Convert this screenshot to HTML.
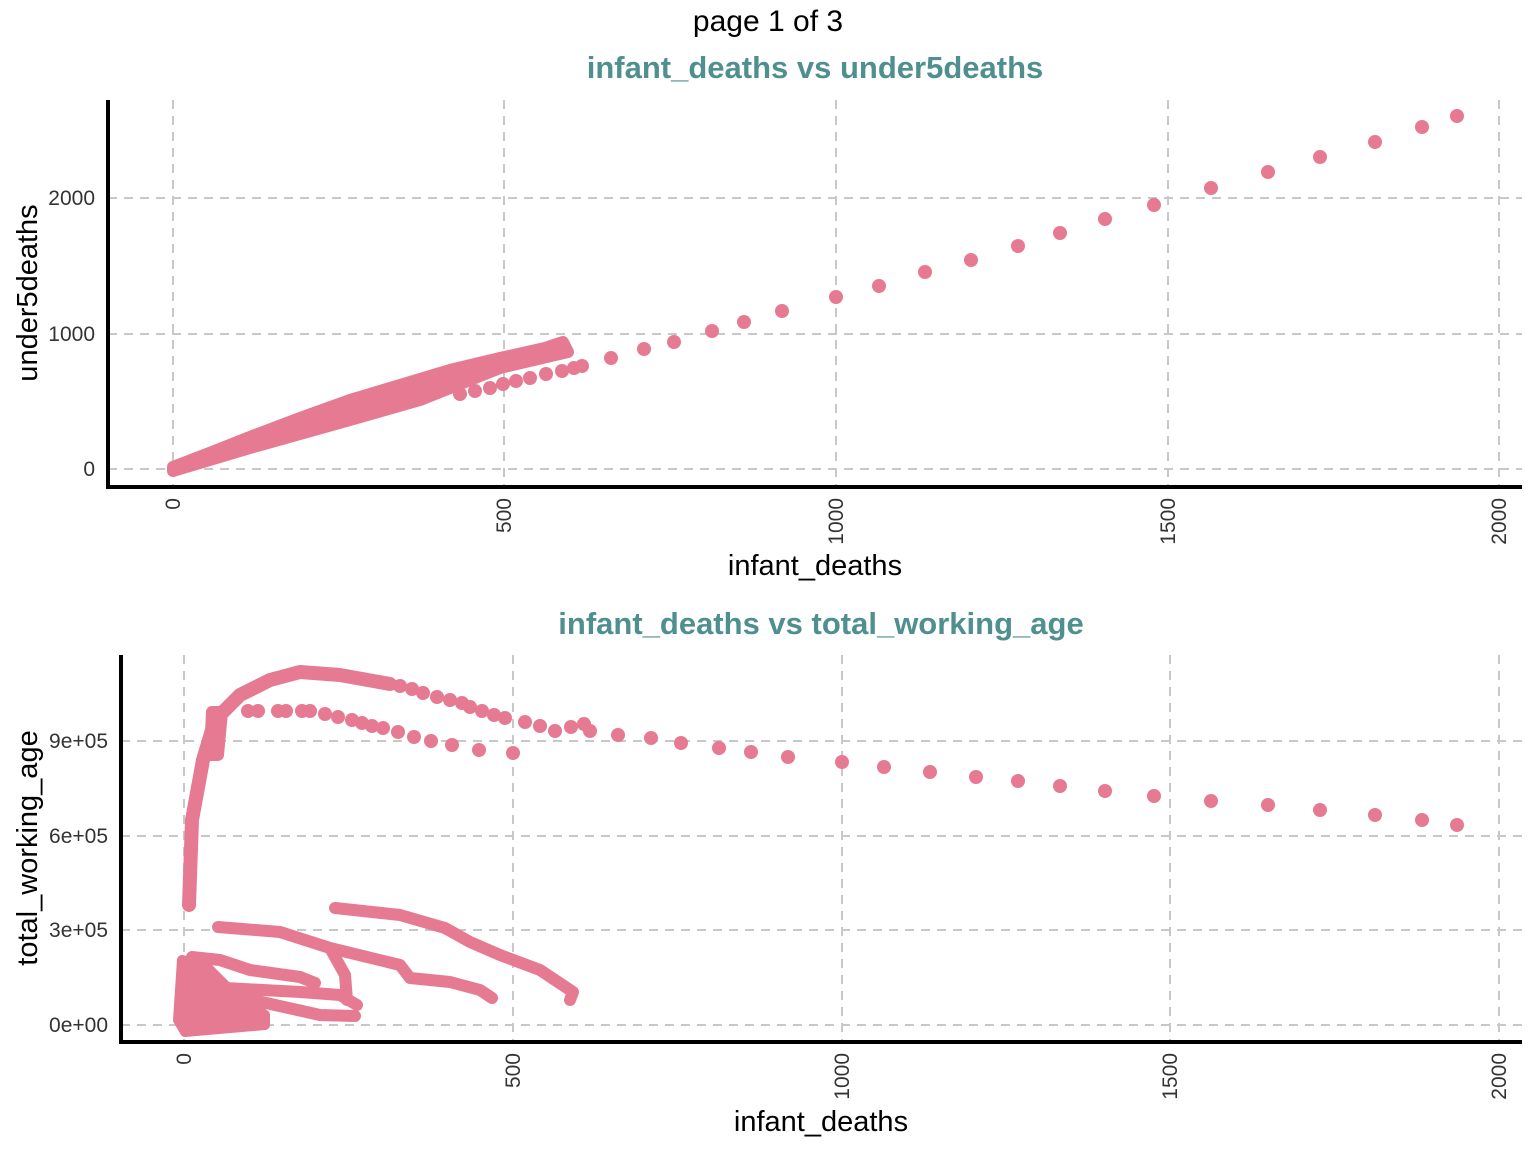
<!DOCTYPE html>
<html><head><meta charset="utf-8"><style>
body{margin:0;background:#fff}
svg{display:block}
text{font-family:"Liberation Sans",sans-serif}
</style></head><body>
<svg width="1536" height="1152" xmlns="http://www.w3.org/2000/svg">
<g stroke="#c8c8c8" stroke-width="2" stroke-dasharray="9,7" fill="none">
<path d="M173,100V487M504,100V487M836,100V487M1168,100V487M1499,100V487M108,469H1522M108,334H1522M108,198H1522"/>
<path d="M184,655V1042M513,655V1042M842,655V1042M1170,655V1042M1499,655V1042M121,1025H1522M121,930H1522M121,836H1522M121,741H1522"/>
</g>
<text x="768" y="31" font-size="30" text-anchor="middle">page 1 of 3</text>
<text x="815" y="78" font-size="31" font-weight="bold" fill="#4f8f8f" text-anchor="middle">infant_deaths vs under5deaths</text>
<text x="821" y="634" font-size="31" font-weight="bold" fill="#4f8f8f" text-anchor="middle">infant_deaths vs total_working_age</text>
<g font-size="21" fill="#333" text-anchor="end">
<text x="95" y="476">0</text><text x="95" y="341">1000</text><text x="95" y="205">2000</text>
<text x="108" y="1032">0e+00</text><text x="108" y="937">3e+05</text><text x="108" y="843">6e+05</text><text x="108" y="748">9e+05</text>
</g>
<g font-size="21" fill="#333" text-anchor="end">
<text transform="translate(180,498) rotate(-90)">0</text>
<text transform="translate(511,498) rotate(-90)">500</text>
<text transform="translate(843,498) rotate(-90)">1000</text>
<text transform="translate(1175,498) rotate(-90)">1500</text>
<text transform="translate(1506,498) rotate(-90)">2000</text>
<text transform="translate(191,1053) rotate(-90)">0</text>
<text transform="translate(520,1053) rotate(-90)">500</text>
<text transform="translate(849,1053) rotate(-90)">1000</text>
<text transform="translate(1177,1053) rotate(-90)">1500</text>
<text transform="translate(1506,1053) rotate(-90)">2000</text>
</g>
<text x="815" y="575" font-size="29" text-anchor="middle">infant_deaths</text>
<text x="821" y="1131" font-size="29" text-anchor="middle">infant_deaths</text>
<text transform="translate(37,293) rotate(-90)" font-size="29" text-anchor="middle">under5deaths</text>
<text transform="translate(37,848) rotate(-90)" font-size="29" text-anchor="middle">total_working_age</text>
<g stroke="#000" stroke-width="4" fill="none">
<path d="M108,100V487H1522"/><path d="M121,655V1042H1522"/>
</g>
<g fill="#E57A92" stroke="#E57A92" stroke-linejoin="round" stroke-linecap="round">
<path stroke-width="12" d="M173,467L212,452L255,435L300,418L350,400L400,385L450,370L500,358L545,348L563,342L568,352L500,368L470,380L420,400L350,420L250,448L173,471Z"/>
<path stroke-width="14" fill="none" d="M189,905L192,820L203,760L215,720L240,695L270,680L300,672L340,675L390,684"/>
<path stroke-width="12" d="M212,712L222,712L218,755L210,755Z"/>
<path stroke-width="12" fill="none" d="M335,908L400,915L445,928L470,942L500,955L540,970L573,992L570,1000"/>
<path stroke-width="12" fill="none" d="M218,927L280,932L330,948L400,965L410,978L450,982L480,990L492,998M330,948L345,975L347,1000"/>
<path stroke-width="12" fill="none" d="M192,957L220,960L250,970L300,977L315,983"/>
<path stroke-width="12" fill="none" d="M225,988L300,992L340,995L357,1005M230,995L320,1015L355,1016"/>
<path stroke-width="10" d="M182,960L205,965L230,990L265,1015L265,1025L185,1032L178,1020Z"/>
</g>
<g fill="#E57A92">
<circle cx="1457" cy="116" r="7"/><circle cx="1422" cy="127" r="7"/><circle cx="1375" cy="142" r="7"/><circle cx="1320" cy="157" r="7"/><circle cx="1268" cy="172" r="7"/><circle cx="1211" cy="188" r="7"/><circle cx="1154" cy="205" r="7"/><circle cx="1105" cy="219" r="7"/><circle cx="1060" cy="233" r="7"/><circle cx="1018" cy="246" r="7"/><circle cx="971" cy="260" r="7"/><circle cx="925" cy="272" r="7"/><circle cx="879" cy="286" r="7"/><circle cx="836" cy="297" r="7"/><circle cx="782" cy="311" r="7"/><circle cx="744" cy="322" r="7"/><circle cx="712" cy="331" r="7"/><circle cx="674" cy="342" r="7"/><circle cx="644" cy="349" r="7"/><circle cx="611" cy="358" r="7"/><circle cx="582" cy="366" r="7"/><circle cx="574" cy="368" r="7"/><circle cx="562" cy="371" r="7"/><circle cx="546" cy="374" r="7"/><circle cx="530" cy="378" r="7"/><circle cx="516" cy="381" r="7"/><circle cx="503" cy="384" r="7"/><circle cx="490" cy="388" r="7"/><circle cx="475" cy="391" r="7"/><circle cx="460" cy="394" r="7"/>
<circle cx="1457" cy="825" r="7"/><circle cx="1422" cy="820" r="7"/><circle cx="1375" cy="815" r="7"/><circle cx="1320" cy="810" r="7"/><circle cx="1268" cy="805" r="7"/><circle cx="1211" cy="801" r="7"/><circle cx="1154" cy="796" r="7"/><circle cx="1105" cy="791" r="7"/><circle cx="1060" cy="786" r="7"/><circle cx="1018" cy="781" r="7"/><circle cx="976" cy="777" r="7"/><circle cx="930" cy="772" r="7"/><circle cx="884" cy="767" r="7"/><circle cx="842" cy="762" r="7"/><circle cx="788" cy="757" r="7"/><circle cx="751" cy="752" r="7"/><circle cx="719" cy="748" r="7"/><circle cx="681" cy="743" r="7"/><circle cx="651" cy="738" r="7"/><circle cx="618" cy="735" r="7"/><circle cx="590" cy="731" r="7"/><circle cx="584" cy="724" r="7"/><circle cx="571" cy="727" r="7"/>
<circle cx="400" cy="686" r="7"/><circle cx="412" cy="689" r="7"/><circle cx="423" cy="693" r="7"/><circle cx="437" cy="697" r="7"/><circle cx="450" cy="700" r="7"/><circle cx="462" cy="703" r="7"/><circle cx="470" cy="707" r="7"/><circle cx="482" cy="711" r="7"/><circle cx="494" cy="715" r="7"/><circle cx="505" cy="718" r="7"/><circle cx="525" cy="722" r="7"/><circle cx="540" cy="726" r="7"/><circle cx="555" cy="731" r="7"/>
<circle cx="248" cy="711" r="7"/><circle cx="258" cy="711" r="7"/><circle cx="278" cy="711" r="7"/><circle cx="286" cy="711" r="7"/><circle cx="302" cy="711" r="7"/><circle cx="310" cy="711" r="7"/><circle cx="325" cy="714" r="7"/><circle cx="338" cy="717" r="7"/><circle cx="352" cy="720" r="7"/><circle cx="362" cy="723" r="7"/><circle cx="372" cy="726" r="7"/><circle cx="383" cy="728" r="7"/><circle cx="398" cy="732" r="7"/><circle cx="414" cy="737" r="7"/><circle cx="431" cy="741" r="7"/><circle cx="452" cy="745" r="7"/><circle cx="479" cy="750" r="7"/><circle cx="513" cy="753" r="7"/>
</g>
</svg>
</body></html>
